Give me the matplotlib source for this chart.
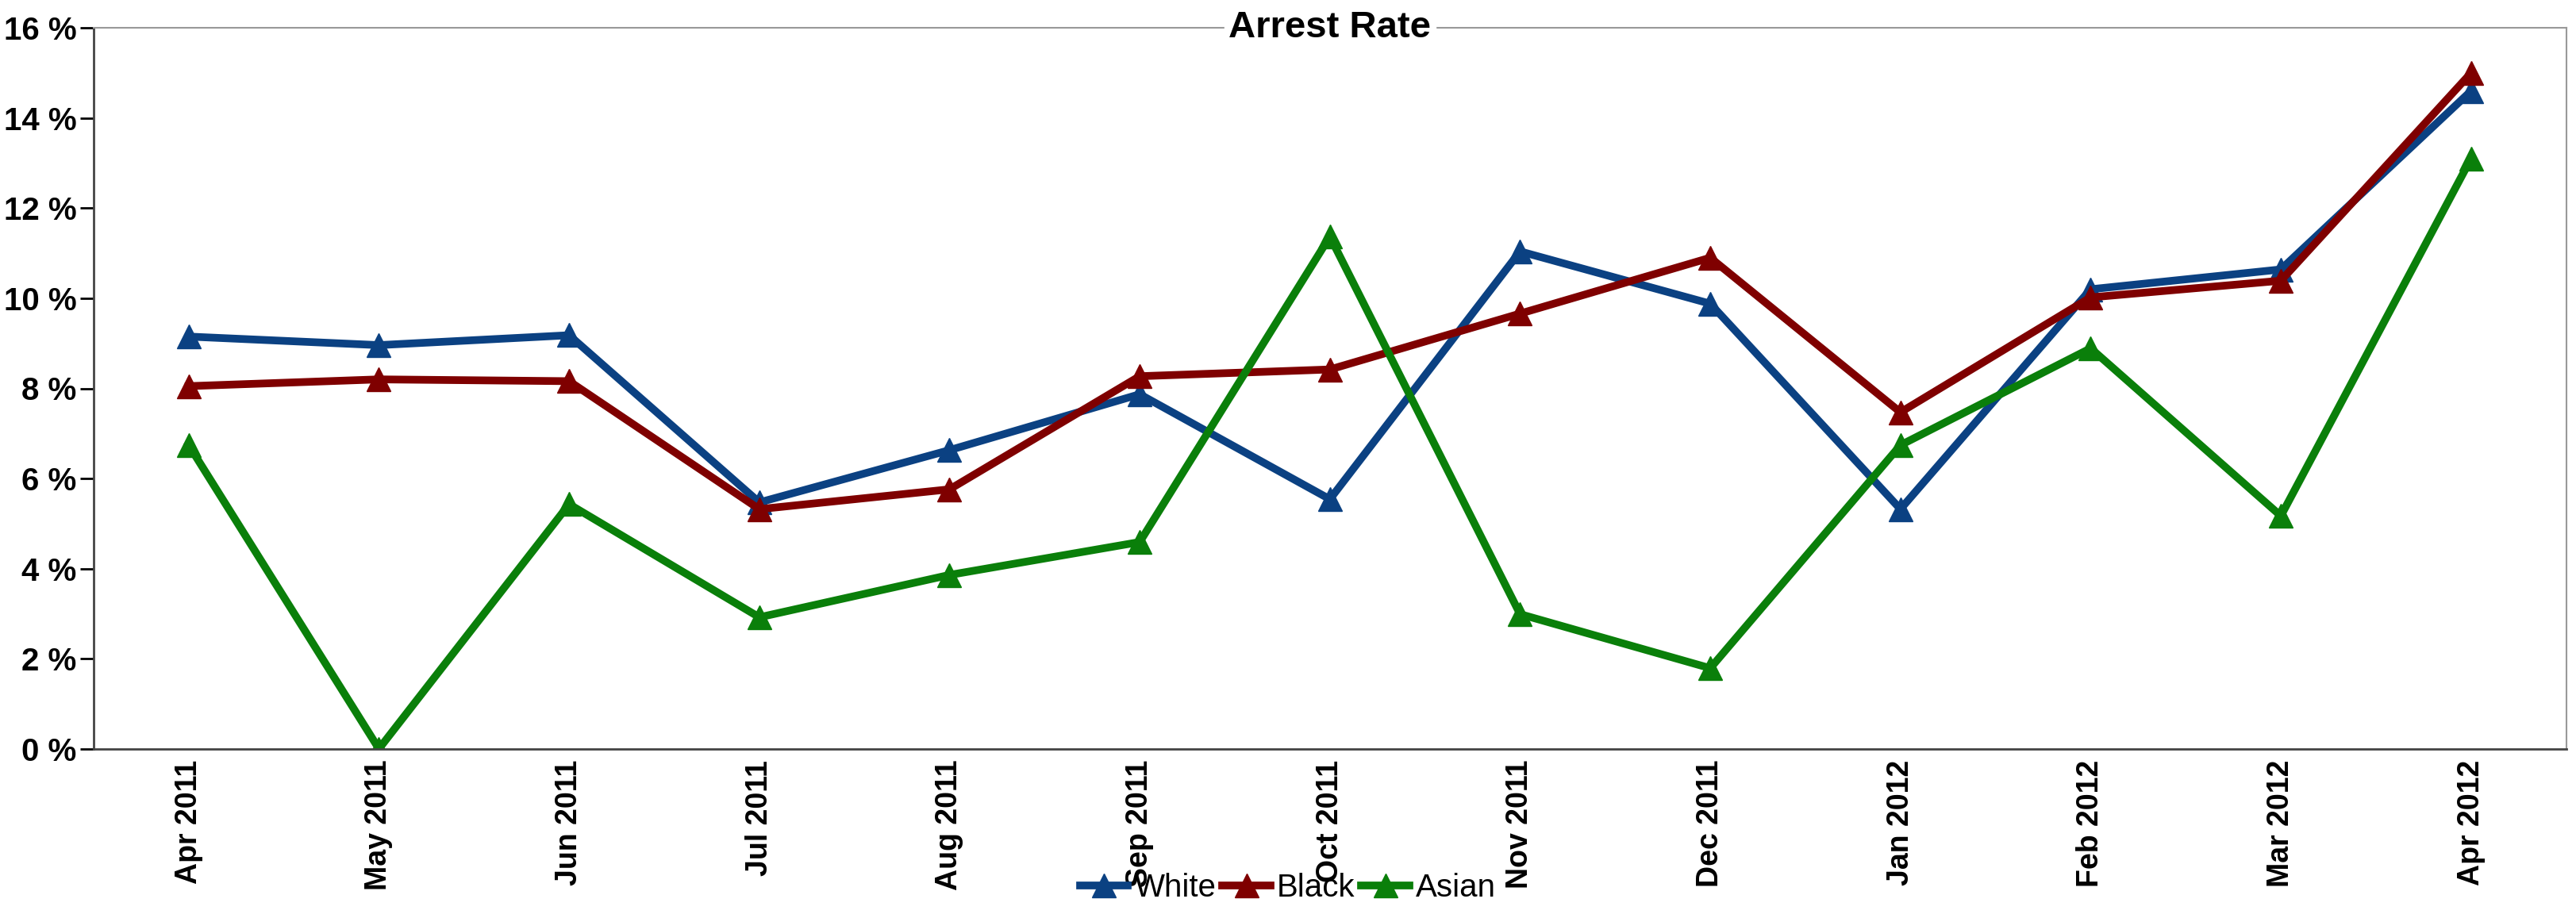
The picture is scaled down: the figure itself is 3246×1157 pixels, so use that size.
import matplotlib
matplotlib.use("Agg")
import matplotlib.pyplot as plt
from matplotlib.ticker import FuncFormatter

months = ["Apr 2011","May 2011","Jun 2011","Jul 2011","Aug 2011","Sep 2011","Oct 2011",
          "Nov 2011","Dec 2011","Jan 2012","Feb 2012","Mar 2012","Apr 2012"]
white = [9.15,8.96,9.18,5.47,6.63,7.87,5.54,11.04,9.88,5.32,10.2,10.64,14.6]
black = [8.05,8.2,8.16,5.32,5.76,8.27,8.42,9.66,10.9,7.47,10.02,10.39,15.0]
asian = [6.74,0.0,5.43,2.92,3.86,4.59,11.37,2.99,1.79,6.74,8.89,5.17,13.1]

plt.rcParams['font.family'] = ['Liberation Sans', 'DejaVu Sans']
fig = plt.figure(figsize=(32.46, 11.57), dpi=100)
ax = fig.add_axes([57/1568, 1-456/559, (1562-57)/1568, (456-17)/559])
x = range(len(months))
for vals, c, lab in [(white, '#0b4182', 'White'), (black, '#7f0000', 'Black'), (asian, '#0a7f0a', 'Asian')]:
    ax.plot(x, vals, color=c, lw=7, marker='^', ms=22, label=lab)
ax.set_ylim(0, 16)
ax.set_xlim(-0.5, 12.5)
ax.set_yticks(range(0, 17, 2))
ax.yaxis.set_major_formatter(FuncFormatter(lambda v, p: f"{int(v)} %"))
ax.set_xticks(list(x))
ax.set_xticklabels(months, rotation=90, fontsize=27, fontweight='bold')
for t in ax.get_yticklabels():
    t.set_fontsize(29); t.set_fontweight('bold')
ax.tick_params(axis='y', length=12, width=2, direction='out')
ax.tick_params(axis='x', length=0, pad=10)
ax.spines['left'].set_linewidth(2)
ax.spines['bottom'].set_linewidth(2)
ax.spines['left'].set_color('#444444')
ax.spines['bottom'].set_color('#444444')
for s in ['top', 'right']:
    ax.spines[s].set_color('#999999'); ax.spines[s].set_linewidth(1.5)
ax.text(0.5, 1.0, "Arrest Rate", transform=ax.transAxes, ha='center', va='center',
        fontsize=34, fontweight='bold', backgroundcolor='white', clip_on=False)
fig.legend(loc='lower center', ncol=3, frameon=False, fontsize=29, bbox_to_anchor=(0.5, -0.015),
           handlelength=1.5, columnspacing=0.2, handletextpad=0.2)
fig.savefig("out.png", dpi=100)
